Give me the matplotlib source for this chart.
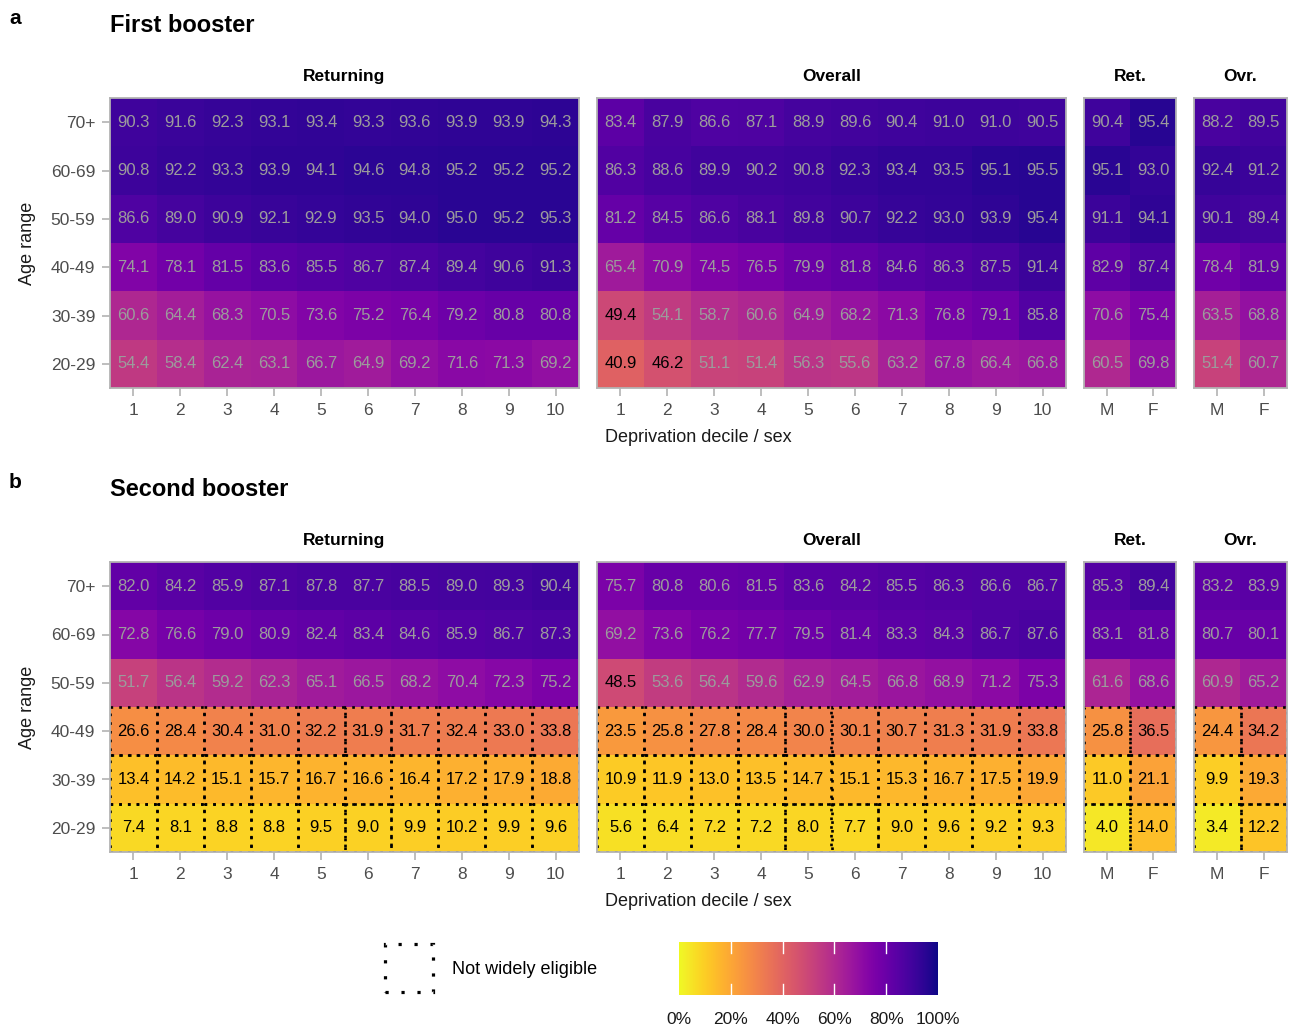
import numpy as np
import matplotlib
matplotlib.use("Agg")
import matplotlib.pyplot as plt
from matplotlib.patches import Rectangle

plt.rcParams['font.family'] = ['Liberation Sans', 'DejaVu Sans']

ages = ['70+', '60-69', '50-59', '40-49', '30-39', '20-29']   # top to bottom
deciles = ['1', '2', '3', '4', '5', '6', '7', '8', '9', '10']
sexes = ['M', 'F']

# First booster
a_ret = [[90.3, 91.6, 92.3, 93.1, 93.4, 93.3, 93.6, 93.9, 93.9, 94.3],
         [90.8, 92.2, 93.3, 93.9, 94.1, 94.6, 94.8, 95.2, 95.2, 95.2],
         [86.6, 89.0, 90.9, 92.1, 92.9, 93.5, 94.0, 95.0, 95.2, 95.3],
         [74.1, 78.1, 81.5, 83.6, 85.5, 86.7, 87.4, 89.4, 90.6, 91.3],
         [60.6, 64.4, 68.3, 70.5, 73.6, 75.2, 76.4, 79.2, 80.8, 80.8],
         [54.4, 58.4, 62.4, 63.1, 66.7, 64.9, 69.2, 71.6, 71.3, 69.2]]
a_ovr = [[83.4, 87.9, 86.6, 87.1, 88.9, 89.6, 90.4, 91.0, 91.0, 90.5],
         [86.3, 88.6, 89.9, 90.2, 90.8, 92.3, 93.4, 93.5, 95.1, 95.5],
         [81.2, 84.5, 86.6, 88.1, 89.8, 90.7, 92.2, 93.0, 93.9, 95.4],
         [65.4, 70.9, 74.5, 76.5, 79.9, 81.8, 84.6, 86.3, 87.5, 91.4],
         [49.4, 54.1, 58.7, 60.6, 64.9, 68.2, 71.3, 76.8, 79.1, 85.8],
         [40.9, 46.2, 51.1, 51.4, 56.3, 55.6, 63.2, 67.8, 66.4, 66.8]]
a_ret_sex = [[90.4, 95.4], [95.1, 93.0], [91.1, 94.1],
             [82.9, 87.4], [70.6, 75.4], [60.5, 69.8]]
a_ovr_sex = [[88.2, 89.5], [92.4, 91.2], [90.1, 89.4],
             [78.4, 81.9], [63.5, 68.8], [51.4, 60.7]]

# Second booster
b_ret = [[82.0, 84.2, 85.9, 87.1, 87.8, 87.7, 88.5, 89.0, 89.3, 90.4],
         [72.8, 76.6, 79.0, 80.9, 82.4, 83.4, 84.6, 85.9, 86.7, 87.3],
         [51.7, 56.4, 59.2, 62.3, 65.1, 66.5, 68.2, 70.4, 72.3, 75.2],
         [26.6, 28.4, 30.4, 31.0, 32.2, 31.9, 31.7, 32.4, 33.0, 33.8],
         [13.4, 14.2, 15.1, 15.7, 16.7, 16.6, 16.4, 17.2, 17.9, 18.8],
         [7.4, 8.1, 8.8, 8.8, 9.5, 9.0, 9.9, 10.2, 9.9, 9.6]]
b_ovr = [[75.7, 80.8, 80.6, 81.5, 83.6, 84.2, 85.5, 86.3, 86.6, 86.7],
         [69.2, 73.6, 76.2, 77.7, 79.5, 81.4, 83.3, 84.3, 86.7, 87.6],
         [48.5, 53.6, 56.4, 59.6, 62.9, 64.5, 66.8, 68.9, 71.2, 75.3],
         [23.5, 25.8, 27.8, 28.4, 30.0, 30.1, 30.7, 31.3, 31.9, 33.8],
         [10.9, 11.9, 13.0, 13.5, 14.7, 15.1, 15.3, 16.7, 17.5, 19.9],
         [5.6, 6.4, 7.2, 7.2, 8.0, 7.7, 9.0, 9.6, 9.2, 9.3]]
b_ret_sex = [[85.3, 89.4], [83.1, 81.8], [61.6, 68.6],
             [25.8, 36.5], [11.0, 21.1], [4.0, 14.0]]
b_ovr_sex = [[83.2, 83.9], [80.7, 80.1], [60.9, 65.2],
             [24.4, 34.2], [9.9, 19.3], [3.4, 12.2]]

# rows (bottom = 0) that were not widely eligible, per panel
a_inelig = []
b_inelig = [0, 1, 2]

W, H = 1290, 1027
fig = plt.figure(figsize=(W / 100, H / 100), dpi=100)
cmap = 'plasma_r'
grey = '#b3b3b3'


def px_axes(x0, y0, x1, y1):
    return fig.add_axes([x0 / W, 1 - y1 / H, (x1 - x0) / W, (y1 - y0) / H])


def heat(x0, x1, top, vals, xlabels, title, inelig, first):
    ax = px_axes(x0, top, x1, top + 290)
    arr = np.array(vals)[::-1]
    nr, nc = arr.shape
    ax.imshow(arr, cmap=cmap, vmin=0, vmax=100, origin='lower',
              extent=(0.5, nc + 0.5, -0.5, nr - 0.5), aspect='auto', zorder=0)
    for r in range(nr):
        for c in range(nc):
            v = arr[r, c]
            ax.text(c + 1, r, f'{v:.1f}', ha='center', va='center', fontsize=12,
                    color='black' if v < 50 else '#9c9c9c', zorder=4)
    # dotted box round each cell, clipped at the panel edge, under the frame
    for r in inelig:
        for c in range(nc):
            ax.add_patch(Rectangle((c + 0.5, r - 0.5), 1, 1, fill=False,
                                   ls=(0, (1, 2.3)), lw=1.9, ec='black',
                                   zorder=1.5))
    ax.set_xticks(range(1, nc + 1))
    ax.set_xticklabels(xlabels)
    ax.set_yticks(range(nr))
    ax.tick_params(colors=grey, labelcolor='#4d4d4d', labelsize=12.5,
                   length=6, width=1.2, pad=4.5)
    if first:
        ax.set_yticklabels(ages[::-1])
    else:
        ax.set_yticklabels([])
        ax.tick_params(axis='y', length=0)
    for s in ax.spines.values():
        s.set_color(grey)
        s.set_linewidth(1.3)
        s.set_zorder(3)
    ax.set_title(title, fontsize=12.5, fontweight='bold', pad=12)
    return ax


cols = [(110, 579), (597, 1066), (1084, 1176), (1194, 1287)]
titles = ['Returning', 'Overall', 'Ret.', 'Ovr.']

for top, sets, inelig, letter, name in [
        (98, [a_ret, a_ovr, a_ret_sex, a_ovr_sex], a_inelig, 'a', 'First booster'),
        (562, [b_ret, b_ovr, b_ret_sex, b_ovr_sex], b_inelig, 'b', 'Second booster')]:
    for i, ((x0, x1), vals, t) in enumerate(zip(cols, sets, titles)):
        xl = deciles if i < 2 else sexes
        heat(x0, x1, top, vals, xl, t, inelig, i == 0)
    fig.text(9 / W, 1 - (top - 80) / H, letter, fontsize=15, fontweight='bold',
             va='center')
    fig.text(110 / W, 1 - (top - 73) / H, name, fontsize=17, fontweight='bold',
             va='center')
    fig.text(27 / W, 1 - (top + 145) / H, 'Age range', fontsize=13, rotation=90,
             ha='center', va='center', color='#1a1a1a')
    fig.text(698 / W, 1 - (top + 339) / H, 'Deprivation decile / sex', fontsize=13,
             ha='center', va='center', color='#1a1a1a')

# legend for not widely eligible
lax = px_axes(384, 943, 434, 993)
lax.set_xlim(0, 1)
lax.set_ylim(0, 1)
lax.axis('off')
lax.add_patch(Rectangle((0.02, 0.02), 0.96, 0.96, fill=False, lw=2.3,
                        ls=(0, (1, 4)), ec='black', clip_on=False))
fig.text(452 / W, 1 - 969 / H, 'Not widely eligible', fontsize=13, va='center')

# colour bar
cax = px_axes(679, 942, 938, 995)
grad = np.linspace(0, 100, 256)[None, :]
cax.imshow(grad, cmap=cmap, vmin=0, vmax=100, extent=(0, 100, 0, 1), aspect='auto')
for t in [20, 40, 60, 80]:
    cax.plot([t, t], [0, 0.2], color='white', lw=1)
    cax.plot([t, t], [0.8, 1], color='white', lw=1)
cax.set_xlim(0, 100)
cax.set_ylim(0, 1)
cax.set_yticks([])
cax.set_xticks([0, 20, 40, 60, 80, 100])
cax.set_xticklabels(['0%', '20%', '40%', '60%', '80%', '100%'])
cax.tick_params(length=0, labelsize=12.5, pad=12, labelcolor='#1a1a1a')
for s in cax.spines.values():
    s.set_visible(False)

fig.savefig('out.png', dpi=100)
